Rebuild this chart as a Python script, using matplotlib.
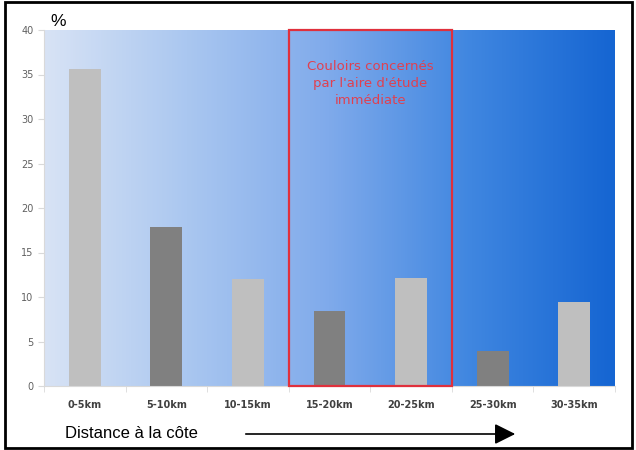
import matplotlib.pyplot as plt
import matplotlib.patches as patches
from matplotlib.colors import LinearSegmentedColormap
import numpy as np

# données
categories = ["0-5km", "5-10km", "10-15km", "15-20km", "20-25km", "25-30km", "30-35km"]
valeurs = [35.6, 17.9, 12.0, 8.4, 12.1, 3.9, 9.4]
couleurs = ["#BFBFBF", "#808080", "#BFBFBF", "#808080", "#BFBFBF", "#808080", "#BFBFBF"]
yticks = [0, 5, 10, 15, 20, 25, 30, 35, 40]

fig = plt.figure(figsize=(6.36, 4.5), dpi=100, facecolor="white")
ax = fig.add_axes([44 / 636, 1 - 386 / 450, 571 / 636, 356 / 450])

# fond en dégradé bleu
degrade = LinearSegmentedColormap.from_list(
    "fond", ["#D8E3F5", "#AAC7F0", "#7FAAEB", "#3F86E0", "#1565D2"])
ax.imshow(np.linspace(0, 1, 256).reshape(1, -1), cmap=degrade, aspect="auto",
          extent=[-0.5, 6.5, 0, 40], zorder=0)

x = np.arange(len(categories))
ax.bar(x, valeurs, width=0.39, color=couleurs, zorder=2)

# cadre rouge : couloirs de l'aire d'étude
ax.add_patch(patches.Rectangle((2.5, 0), 2.0, 40, fill=False, edgecolor="#E0303C",
                               linewidth=1.6, zorder=3, clip_on=False))
ax.text(3.5, 36.6, "Couloirs concernés\npar l'aire d'étude\nimmédiate", ha="center", va="top",
        fontsize=9.5, color="#E04050", linespacing=1.4, zorder=4)

ax.set_xlim(-0.5, 6.5)
ax.set_ylim(0, 40)
ax.set_yticks(yticks)
ax.tick_params(axis="y", labelsize=7, colors="#D9D9D9", labelcolor="#606060", length=4, width=0.8)
ax.set_xticks(x)
ax.set_xticklabels(categories, fontsize=7, color="#404040", fontweight="bold")
ax.set_xticks(np.arange(-0.5, 7, 1), minor=True)
ax.tick_params(axis="x", which="major", length=0, pad=10)
ax.tick_params(axis="x", which="minor", length=4, color="#D9D9D9")
for s in ["top", "right"]:
    ax.spines[s].set_visible(False)
ax.spines["left"].set_color("#D9D9D9")
ax.spines["bottom"].set_color("#D9D9D9")

fig.text(50 / 636, 1 - 22 / 450, "%", fontsize=12.5, va="center", ha="left", family="Liberation Sans")
fig.text(65 / 636, 1 - 434 / 450, "Distance à la côte", fontsize=12, va="center", ha="left",
         family="Liberation Sans")
fig.add_artist(patches.FancyArrowPatch((243 / 636, 1 - 434 / 450), (518 / 636, 1 - 434 / 450),
                                       transform=fig.transFigure, arrowstyle="-|>,head_length=0.9,head_width=0.45",
                                       mutation_scale=14, color="black", linewidth=1.2))

# cadre noir autour de la figure
fig.add_artist(patches.Rectangle((5 / 636, 2 / 450), 627 / 636, 446 / 450, transform=fig.transFigure,
                                 fill=False, edgecolor="black", linewidth=2))

fig.savefig("out.png", dpi=100)
